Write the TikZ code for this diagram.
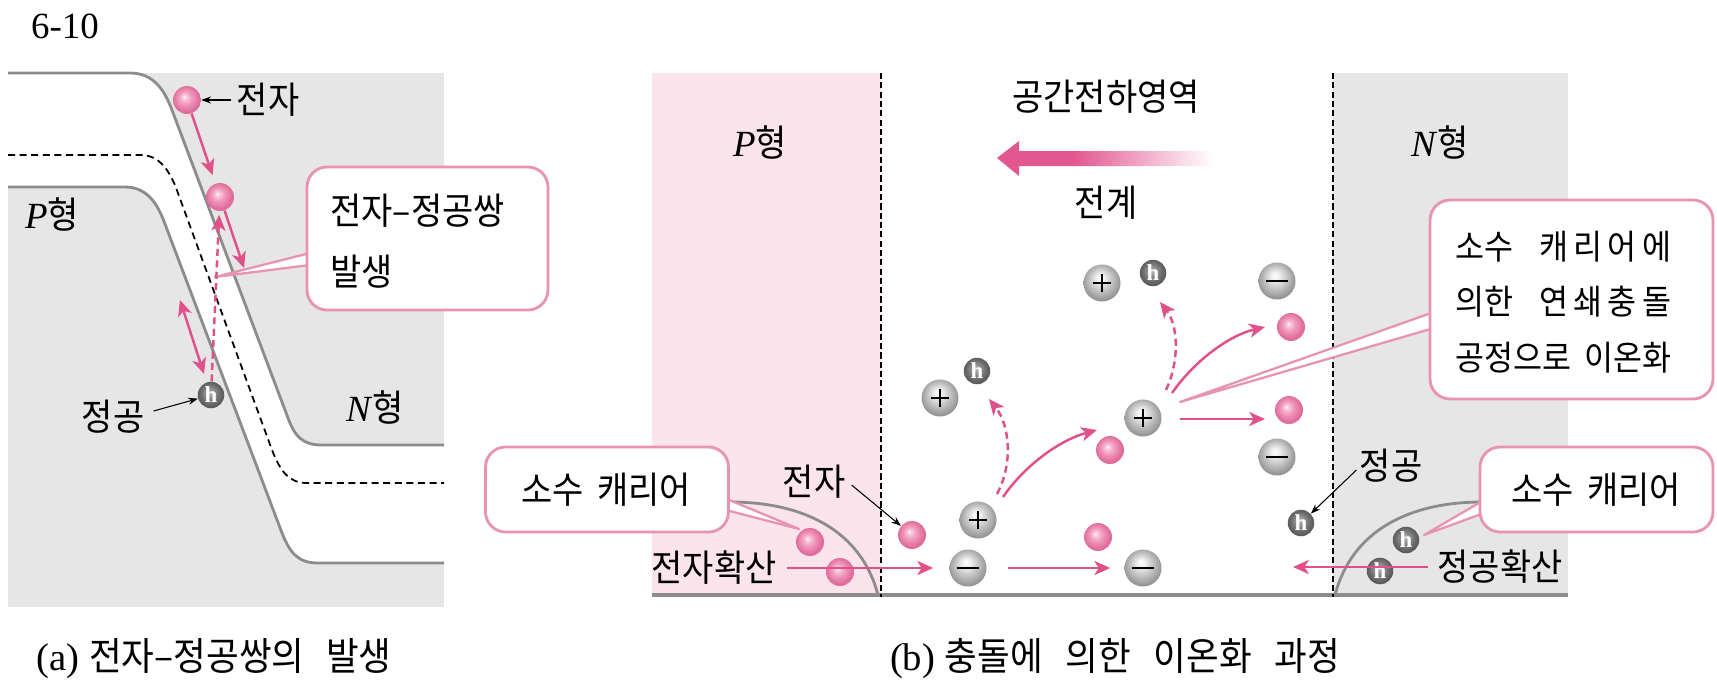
\documentclass[tikz,border=0pt]{standalone}
\usepackage{fontspec}
\setmainfont{Liberation Serif}
\newfontfamily\kr[Scale=1.0,FakeStretch=0.92,WordSpace=1.8]{Noto Sans CJK KR}
\usetikzlibrary{arrows.meta,calc}

\definecolor{panelgray}{HTML}{E6E6E6}
\definecolor{bandline}{HTML}{8C8C8C}
\definecolor{pregion}{HTML}{FCE4EC}
\definecolor{arrowpink}{HTML}{E0508A}
\definecolor{boxpink}{HTML}{E993B3}
\definecolor{pbA}{HTML}{FAD0DF}
\definecolor{pbB}{HTML}{F29CBD}
\definecolor{pbC}{HTML}{E06D9C}
\definecolor{igA}{HTML}{F2F2F2}
\definecolor{igB}{HTML}{C9C9C9}
\definecolor{igC}{HTML}{909090}
\definecolor{hgA}{HTML}{C4C4C4}
\definecolor{hgB}{HTML}{979797}
\definecolor{hgC}{HTML}{6C6C6C}
\definecolor{hgD}{HTML}{525252}
\definecolor{fpk}{HTML}{E2578F}

% ball and arrow shadings
\pgfdeclareradialshading{pinkball}{\pgfpoint{-5bp}{6bp}}{color(0bp)=(white); color(3bp)=(pbA); color(11bp)=(pbB); color(23bp)=(pbC); color(40bp)=(pbC)}
\pgfdeclareradialshading{ionball}{\pgfpoint{-3bp}{8bp}}{color(0bp)=(white); color(5bp)=(igA); color(14bp)=(igB); color(27bp)=(igC); color(40bp)=(igC)}
\pgfdeclareradialshading{holeball}{\pgfpoint{-3bp}{5bp}}{color(0bp)=(hgA); color(7bp)=(hgB); color(18bp)=(hgC); color(28bp)=(hgD); color(40bp)=(hgD)}
\pgfdeclarehorizontalshading{fieldfade}{100bp}{color(0bp)=(fpk); color(42bp)=(fpk); color(73bp)=(white); color(100bp)=(white)}

\newcommand{\kfil}{\hskip 0pt plus 1fil}
\newcommand{\kgap}{\hskip 0.3em plus 3fil}
\newcommand{\bigtext}{\fontsize{21pt}{25pt}\selectfont}
\newcommand{\boxtext}{\fontsize{19.5pt}{23pt}\selectfont}
\newcommand{\captext}{\fontsize{22pt}{26pt}\selectfont}
\newlength{\boxRw}

\tikzset{
  bandedge/.style={draw=bandline, line width=1.6pt},
  fermi/.style={draw=black, line width=1pt, dash pattern=on 4pt off 2.6pt},
  junction/.style={draw=black, line width=0.9pt, dash pattern=on 3.5pt off 1.8pt},
  pball/.style={circle, inner sep=0pt, minimum size=0.56cm, shading=pinkball},
  ionplus/.style={circle, inner sep=0pt, minimum size=0.74cm, shading=ionball,
    path picture={\draw[line width=1.1pt]
      ([xshift=-5pt]path picture bounding box.center) -- ([xshift=5pt]path picture bounding box.center)
      ([yshift=-5pt]path picture bounding box.center) -- ([yshift=5pt]path picture bounding box.center);}},
  ionminus/.style={circle, inner sep=0pt, minimum size=0.74cm, shading=ionball,
    path picture={\draw[line width=1.2pt]
      ([xshift=-6.5pt]path picture bounding box.center) -- ([xshift=6.5pt]path picture bounding box.center);}},
  hole/.style={circle, inner sep=0pt, minimum size=0.53cm, shading=holeball, text=white,
    font=\fontsize{13pt}{13pt}\selectfont\bfseries},
  parrow/.style={draw=arrowpink, line width=1.4pt, -{Stealth[length=9pt,width=8pt,inset=2.5pt]}},
  pdarrow/.style={parrow, dash pattern=on 4pt off 2.5pt},
  parrowtwo/.style={draw=arrowpink, line width=1.4pt,
    {Stealth[length=9pt,width=8pt,inset=2.5pt]}-{Stealth[length=9pt,width=8pt,inset=2.5pt]}},
  karrow/.style={draw=black, line width=0.6pt, -{Stealth[length=5.5pt,width=4pt]}},
  callout/.style={draw=boxpink, line width=1.6pt, fill=white, rounded corners=0.4cm, inner sep=0pt},
  wedge/.style={draw=boxpink, line width=1.3pt, fill=white, line join=round},
  ktext/.style={font=\bigtext\kr, inner sep=0pt},
  btext/.style={font=\boxtext\kr, inner sep=0pt},
  ltext/.style={font=\bigtext, inner sep=0pt},
  ctext/.style={font=\captext, inner sep=0pt},
}

\begin{document}
\settowidth{\boxRw}{\boxtext\kr 공정으로 이온화}
\begin{tikzpicture}[x={(0.02cm,0)}, y={(0,-0.02cm)}, font=\bigtext]
\useasboundingbox (0,0) rectangle (1717,680);

\node[ltext] (fig) at (65,26) {6-10};

% ---------- (a) band bending at the junction ----------
\fill[panelgray] (8,73) rectangle (444,607);
\fill[white] (8,73) -- (130,73) .. controls (155,73) and (165,92) .. (172,110)
  -- (288,418) .. controls (295,437) and (303,445) .. (322,445) -- (444,445)
  -- (444,563) -- (318,563) .. controls (298,563) and (290,553) .. (282,533)
  -- (165,224) .. controls (158,205) and (148,187) .. (125,187) -- (8,187) -- cycle;
\draw[bandedge] (8,73) -- (130,73) .. controls (155,73) and (165,92) .. (172,110)
  -- (288,418) .. controls (295,437) and (303,445) .. (322,445) -- (444,445);
\draw[bandedge] (8,187) -- (125,187) .. controls (148,187) and (158,205) .. (165,224)
  -- (282,533) .. controls (290,553) and (298,563) .. (318,563) -- (444,563);
\draw[fermi] (8,155) -- (140,155) .. controls (160,155) and (168,170) .. (175,185)
  -- (272,450) .. controls (280,470) and (288,483) .. (307,483) -- (444,483);

\node[ltext] (pA) at (52,214) {\textit{P}{\kr 형}};
\node[ltext] (nA) at (375,407) {\textit{N}{\kr 형}};

% callout of (a)
\coordinate (tipA) at (215,277);
\draw[wedge] (310,253) -- (tipA) -- (310,265) -- cycle;
\node[callout, minimum width=4.82cm, minimum height=2.86cm] (boxA) at (427.5,238.5) {};
\node[ktext, anchor=west] (boxA1) at (330,211) {전자–정공쌍};
\node[ktext, anchor=west] (boxA2) at (330,272) {발생};

\node[pball] (e1) at (187,100) {};
\node[pball] (e2) at (220,197) {};
\node[hole] (hA) at (211,395) {h};
\node[ktext] (e1lab) at (268,100) {전자};
\node[ktext] (hAlab) at (113,417) {정공};

\coordinate (e2to) at (244,268);
\coordinate (vb1) at (180,300);
\coordinate (vb2) at (204,374);
\draw[parrow, shorten >=5pt] (e1) -- (e2);
\draw[parrow] (e2) -- (e2to);
\draw[pdarrow, shorten >=2pt] (hA) -- (e2);
\draw[parrowtwo] (vb1) -- (vb2);
\draw[karrow] ([xshift=-3pt]e1lab.west) -- (e1);
\draw[karrow] ($(hAlab.east)+(9,-6)$) -- (hA);

\node[ctext] (capA) at (214,659) {\hbox to 7.1cm{(a) {\kr 전자–정공쌍의}\hfill{\kr 발생}}};

% ---------- (b) impact ionization ----------
\fill[pregion] (652,73) rectangle (881,595);
\fill[panelgray] (1333,73) rectangle (1568,595);
\draw[bandedge] (730,502) .. controls (803,502) and (861,530) .. (878,595);
\draw[bandedge] (1335,595) .. controls (1352,530) and (1410,502) .. (1482,502);
\draw[draw=bandline, line width=2.2pt] (652,595) -- (1568,595);
\draw[junction] (881,73) -- (881,597);
\draw[junction] (1333,73) -- (1333,597);

\node[ltext] (pB) at (760,142) {\textit{P}{\kr 형}};
\node[ltext] (nB) at (1440,142) {\textit{N}{\kr 형}};
\node[ktext] (scr) at (1106,97) {공간전하영역};
\shade[shading=fieldfade] (997,158) -- (1019,141) -- (1019,151) -- (1222,151)
  -- (1222,166) -- (1019,166) -- (1019,176) -- cycle;
\node[ktext] (field) at (1106,203) {전계};

% callouts of (b)
\coordinate (tipL) at (799,529);
\draw[wedge] (722,497) -- (tipL) -- (722,509) -- cycle;
\node[callout, minimum width=4.86cm, minimum height=1.7cm] (boxL) at (607,489.5) {};
\node[ktext] (boxLt) at (606,490) {소수 캐리어};

\coordinate (tipR) at (1180,402);
\draw[wedge] (1434,312) -- (tipR) -- (1434,328) -- cycle;
\node[callout, minimum width=5.66cm, minimum height=3.98cm] (boxR) at (1571.5,299.5) {};
\node[btext, anchor=west] (boxR1) at (1455,247) {\hbox to \boxRw{소수\kgap 캐\kfil 리\kfil 어\kfil 에}};
\node[btext, anchor=west] (boxR2) at (1455,302) {\hbox to \boxRw{의한\kgap 연\kfil 쇄\kfil 충\kfil 돌}};
\node[btext, anchor=west] (boxR3) at (1455,358) {공정으로 이온화};

\coordinate (tipN) at (1424,535);
\draw[wedge] (1484,500) -- (tipN) -- (1484,513) -- cycle;
\node[callout, minimum width=4.66cm, minimum height=1.7cm] (boxN) at (1596.5,489.5) {};
\node[ktext] (boxNt) at (1596,490) {소수 캐리어};

% carriers and ions
\node[ionplus] (ipT) at (1102,283) {};
\node[hole] (hT) at (1153,273) {h};
\node[ionplus] (ipL) at (940,398) {};
\node[hole] (hL) at (977,371) {h};
\node[ionplus] (ipM) at (1143,418) {};
\node[pball] (eM) at (1110,450) {};
\node[ionplus] (ipB) at (978,520) {};
\node[ionminus] (mB1) at (968,568) {};
\node[pball] (eB) at (912,535) {};
\node[pball] (eB2) at (1098,537) {};
\node[ionminus] (mB2) at (1143,568) {};
\node[ionminus] (mR1) at (1277,281) {};
\node[pball] (eR1) at (1291,327) {};
\node[pball] (eR2) at (1289,410) {};
\node[ionminus] (mR2) at (1277,457) {};
\node[hole] (hD) at (1301,523) {h};
\node[hole] (hN1) at (1406,540) {h};
\node[hole] (hN2) at (1380,571) {h};
\node[pball] (eP1) at (810,542) {};
\node[pball] (eP2) at (840,572) {};

\node[ktext] (eBlab) at (814,482) {전자};
\node[ktext] (hDlab) at (1391,466) {정공};
\node[ktext] (diffE) at (714,568) {전자확산};
\node[ktext] (diffH) at (1500,567) {정공확산};

\draw[karrow] ($(eBlab.east)+(6,3)$) -- (eB);
\draw[karrow] ($(hDlab.west)+(-3,4)$) -- (hD);

\coordinate (hdTip) at (1293,567);
\draw[parrow] ($(diffE.east)+(10,0)$) -- ($(mB1.west)+(-16,0)$);
\draw[parrow] ($(mB1.east)+(21,0)$) -- ($(mB2.west)+(-14,0)$);
\draw[parrow] ($(diffH.west)+(-9,0)$) -- (hdTip);

\draw[parrow] ($(ipB)+(25,-23)$) .. controls ($(ipB)+(47,-55)$) and ($(eM)+(-50,-10)$) .. ($(eM)+(-13,-20)$);
\draw[pdarrow] ($(ipB)+(19,-26)$) .. controls ($(ipB)+(36,-58)$) and ($(hL)+(32,53)$) .. ($(hL)+(12,28)$);
\draw[pdarrow] ($(ipM)+(23,-28)$) .. controls ($(ipM)+(37,-58)$) and ($(hT)+(25,52)$) .. ($(hT)+(7,29)$);
\draw[parrow] ($(ipM)+(29,-25)$) .. controls ($(ipM)+(52,-58)$) and ($(eR1)+(-61,8)$) .. ($(eR1)+(-26,0)$);
\draw[parrow] ($(ipM)+(37,1)$) -- ($(eR2)+(-24,9)$);

\node[ctext] (capB) at (1115,659) {\hbox to 9.0cm{(b) {\kr 충돌에}\hfill{\kr 의한}\hfill{\kr 이온화}\hfill{\kr 과정}}};
\end{tikzpicture}
\end{document}
